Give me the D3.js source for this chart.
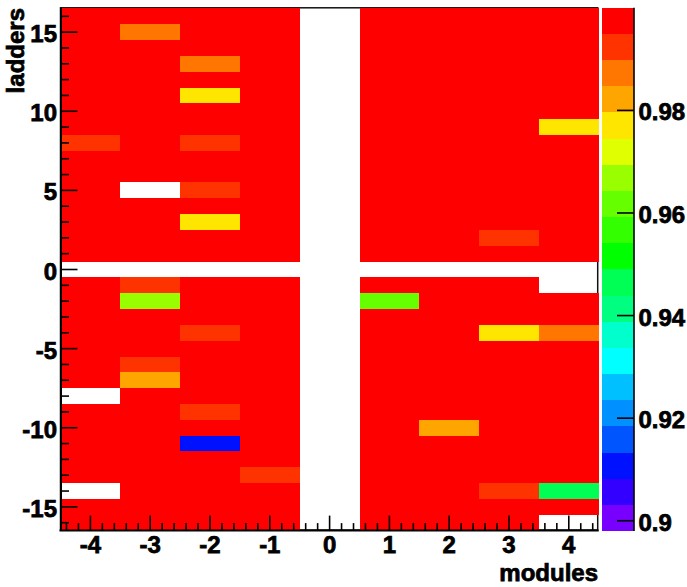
<!DOCTYPE html>
<html>
<head>
<meta charset="utf-8">
<script src="https://cdn.jsdelivr.net/npm/d3@7"></script>
<style>
  html, body { margin: 0; padding: 0; background: #fff; }
  text { font-family: "Liberation Sans", Arial, sans-serif; font-weight: bold; fill: #000; stroke: #000; stroke-width: 0.75px; }
</style>
</head>
<body>
<div id="chart"></div>
<script>
// palette of the z scale, low to high
var palette = ["#7700ff","#3300ff","#0011ff","#0055ff","#0090ff","#00c0ff","#00ffff","#00ffcc","#00ff80","#00ff55",
               "#00ff00","#33ff00","#66ff00","#99ff00","#e0ff00","#ffe600","#ffa500","#ff7700","#ff3300","#ff0000"];
var zTicks = [0.9, 0.92, 0.94, 0.96, 0.98];
var moduleTicks = [-4, -3, -2, -1, 0, 1, 2, 3, 4];
var ladderTicks = [-15, -10, -5, 0, 5, 10, 15];

var modules = [-4, -3, -2, -1, 0, 1, 2, 3, 4];
var ladders = [16, 15, 14, 13, 12, 11, 10, 9, 8, 7, 6, 5, 4, 3, 2, 1, 0,
               -1, -2, -3, -4, -5, -6, -7, -8, -9, -10, -11, -12, -13, -14, -15, -16];

// efficiency per ladder (rows) and module (columns), _ = no data
var _ = null;
var efficiency = [
  [.998, .998, .998, .998, _, .998, .998, .998, .998],
  [.998, .987, .998, .998, _, .998, .998, .998, .998],
  [.998, .998, .998, .998, _, .998, .998, .998, .998],
  [.998, .998, .987, .998, _, .998, .998, .998, .998],
  [.998, .998, .998, .998, _, .998, .998, .998, .998],
  [.998, .998, .977, .998, _, .998, .998, .998, .998],
  [.998, .998, .998, .998, _, .998, .998, .998, .998],
  [.998, .998, .998, .998, _, .998, .998, .998, .977],
  [.992, .998, .992, .998, _, .998, .998, .998, .998],
  [.998, .998, .998, .998, _, .998, .998, .998, .998],
  [.998, .998, .998, .998, _, .998, .998, .998, .998],
  [.998, _,    .992, .998, _, .998, .998, .998, .998],
  [.998, .998, .998, .998, _, .998, .998, .998, .998],
  [.998, .998, .977, .998, _, .998, .998, .998, .998],
  [.998, .998, .998, .998, _, .998, .998, .992, .998],
  [.998, .998, .998, .998, _, .998, .998, .998, .998],
  [_,    _,    _,    _,    _, _,    _,    _,    _   ],
  [.998, .992, .998, .998, _, .998, .998, .998, _   ],
  [.998, .967, .998, .998, _, .962, .998, .998, .998],
  [.998, .998, .998, .998, _, .998, .998, .998, .998],
  [.998, .998, .992, .998, _, .998, .998, .977, .987],
  [.998, .998, .998, .998, _, .998, .998, .998, .998],
  [.998, .992, .998, .998, _, .998, .998, .998, .998],
  [.998, .982, .998, .998, _, .998, .998, .998, .998],
  [_,    .998, .998, .998, _, .998, .998, .998, .998],
  [.998, .998, .992, .998, _, .998, .998, .998, .998],
  [.998, .998, .998, .998, _, .998, .982, .998, .998],
  [.998, .998, .911, .998, _, .998, .998, .998, .998],
  [.998, .998, .998, .998, _, .998, .998, .998, .998],
  [.998, .998, .998, .992, _, .998, .998, .998, .998],
  [_,    .998, .998, .998, _, .998, .998, .992, .946],
  [.998, .998, .998, .998, _, .998, .998, .998, .998],
  [.998, .998, .998, .998, _, .998, .998, .998, _   ]
];

var width = 687, height = 587;
var plot = {left: 60.5, right: 598.7, top: 8.4, bottom: 530.6};
var bar = {left: 601.5, right: 634};
var fontSize = 24;

var svg = d3.select("#chart").append("svg")
  .attr("width", width)
  .attr("height", height);

var x = d3.scaleLinear().domain([-4.5, 4.5]).range([plot.left, plot.right]);
var y = d3.scaleLinear().domain([-16.5, 16.5]).range([plot.bottom, plot.top]);
var zMin = 0.898, zMax = 1.0;
var color = d3.scaleQuantize().domain([zMin, zMax]).range(palette);
var zy = d3.scaleLinear().domain([zMin, zMax]).range([plot.bottom + 0.4, plot.top - 0.6]);

// frame goes first, the cells hide it except on empty bins
svg.append("rect")
  .attr("x", plot.left)
  .attr("y", plot.top - 0.6)
  .attr("width", plot.right - plot.left - 1)
  .attr("height", plot.bottom - plot.top)
  .attr("fill", "none")
  .attr("stroke", "#111")
  .attr("stroke-width", 1.5);

var cells = [];
ladders.forEach(function(l, i){
  modules.forEach(function(m, j){
    if(efficiency[i][j] !== null) cells.push({module: m, ladder: l, value: efficiency[i][j]});
  });
});

svg.append("g").selectAll("rect")
  .data(cells)
  .enter()
  .append("rect")
  .attr("x", function(d){return x(d.module - 0.5);})
  .attr("y", function(d){return y(d.ladder + 0.5);})
  .attr("width", function(d){return x(d.module + 0.5) - x(d.module - 0.5);})
  .attr("height", function(d){return y(d.ladder - 0.5) - y(d.ladder + 0.5);})
  .attr("fill", function(d){return color(d.value);})
  .attr("shape-rendering", "crispEdges");

// x axis
var xAxis = svg.append("g");
d3.range(-22, 23).map(function(v){return v / 5;}).forEach(function(v){
  var major = Number.isInteger(v);
  xAxis.append("line")
    .attr("x1", x(v)).attr("x2", x(v))
    .attr("y1", plot.bottom).attr("y2", plot.bottom - (major ? 15 : 7.5))
    .attr("stroke", "#000").attr("stroke-width", 1.6);
});
xAxis.append("line")
  .attr("x1", plot.left - 1).attr("x2", plot.right)
  .attr("y1", plot.bottom).attr("y2", plot.bottom)
  .attr("stroke", "#000").attr("stroke-width", 2);
xAxis.selectAll("text")
  .data(moduleTicks)
  .enter()
  .append("text")
  .attr("x", function(d){return x(d);})
  .attr("y", 553)
  .attr("text-anchor", "middle")
  .attr("font-size", fontSize)
  .text(String);

// y axis
var yAxis = svg.append("g");
d3.range(-16, 17).forEach(function(v){
  var major = v % 5 === 0;
  yAxis.append("line")
    .attr("x1", plot.left).attr("x2", plot.left + (major ? 17 : 8.5))
    .attr("y1", y(v)).attr("y2", y(v))
    .attr("stroke", "#000").attr("stroke-width", 1.6);
});
yAxis.append("line")
  .attr("x1", plot.left + 0.5).attr("x2", plot.left + 0.5)
  .attr("y1", plot.top - 0.6).attr("y2", plot.bottom)
  .attr("stroke", "#000").attr("stroke-width", 2);
yAxis.selectAll("text")
  .data(ladderTicks)
  .enter()
  .append("text")
  .attr("x", 57)
  .attr("y", function(d){return y(d) + 10;})
  .attr("text-anchor", "end")
  .attr("font-size", fontSize)
  .text(String);

// axis titles
svg.append("text")
  .attr("x", 598).attr("y", 581)
  .attr("text-anchor", "end")
  .attr("font-size", fontSize)
  .text("modules");
svg.append("text")
  .attr("transform", "translate(24,8) rotate(-90)")
  .attr("text-anchor", "end")
  .attr("font-size", fontSize)
  .text("ladders");

// colour bar
svg.append("g").selectAll("rect")
  .data(palette)
  .enter()
  .append("rect")
  .attr("x", bar.left)
  .attr("width", bar.right - bar.left)
  .attr("y", function(d){return zy(color.invertExtent(d)[1]);})
  .attr("height", function(d){return zy(color.invertExtent(d)[0]) - zy(color.invertExtent(d)[1]);})
  .attr("fill", function(d){return d;})
  .attr("shape-rendering", "crispEdges");
svg.append("line")
  .attr("x1", bar.right).attr("x2", bar.right)
  .attr("y1", plot.top - 0.6).attr("y2", plot.bottom + 0.4)
  .attr("stroke", "#000").attr("stroke-width", 1.6);
var zAxis = svg.append("g").selectAll("g")
  .data(zTicks)
  .enter()
  .append("g")
  .attr("transform", function(d){return "translate(0," + zy(d) + ")";});
zAxis.append("line")
  .attr("x1", bar.right - 17).attr("x2", bar.right)
  .attr("stroke", "#000").attr("stroke-width", 1.6);
zAxis.append("text")
  .attr("x", 638.5)
  .attr("y", 10)
  .attr("font-size", fontSize)
  .text(String);
</script>
</body>
</html>
